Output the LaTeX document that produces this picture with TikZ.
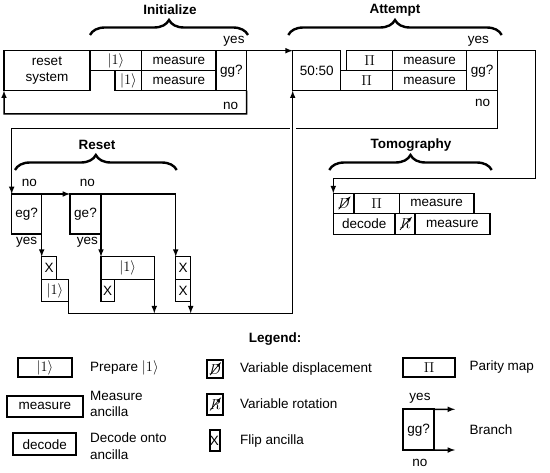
\documentclass[tikz,border=0pt]{standalone}
\usepackage{fontspec}
\setmainfont{Liberation Sans}
\usepackage{tikz}
\usetikzlibrary{shapes.geometric, arrows, positioning, decorations.pathreplacing}
\tikzstyle{blk} = [rectangle, draw=black, line width=1.5pt, inner sep=0pt, outer sep=0pt, anchor=north west, text centered, font=\fontsize{13.5}{16}\selectfont]
\tikzstyle{leg} = [rectangle, draw=black, line width=2pt, inner sep=0pt, outer sep=0pt, text centered, font=\fontsize{13.5}{16}\selectfont]
\tikzstyle{arrow} = [line width=1.5pt,->,>=latex]
\tikzstyle{icon} = [line width=0.7pt,->,>=latex]
\tikzstyle{lbl} = [inner sep=0pt, font=\fontsize{13.5}{16.5}\selectfont]
\tikzstyle{title} = [inner sep=0pt, font=\fontsize{13.5}{16}\selectfont\bfseries]
\tikzstyle{brc} = [decorate, decoration={brace, amplitude=15pt}, line width=2.4pt]

\begin{document}
\begin{tikzpicture}[x=1pt, y=-1pt]
		\useasboundingbox (0,0) rectangle (550,473);
		% Initialize
		\node (rs) [blk, align=center, minimum width=86pt, minimum height=40pt] at (4,50.7) {reset\\system};
		\node (o1a) [blk, minimum width=51.7pt, minimum height=20pt] at (rs.north east) {$|1\rangle$};
		\node (ma) [blk, minimum width=74.3pt, minimum height=20pt] at (o1a.north east) {measure};
		\node (mb) [blk, minimum width=74.3pt, minimum height=20pt] at (ma.south west) {measure};
		\node (o1b) [blk, anchor=north east, minimum width=26.7pt, minimum height=20pt] at (mb.north west) {$|1\rangle$};
		\node (ga) [blk, minimum width=30.7pt, minimum height=40pt] at (ma.north east) {gg?};
		\draw [brc] (90,35) -- (248,35);
		\node [title] at (170,10) {Initialize};
		\node [lbl] at (234,41.7) {yes};
		\node [lbl] at (230.7,106) {no};
		% Attempt
		\node (ff) [blk, minimum width=48pt, minimum height=40pt] at (292.7,50.7) {50:50};
		\node (pb) [blk, anchor=south west, minimum width=52pt, minimum height=20pt] at (ff.south east) {$\Pi$};
		\node (pa) [blk, anchor=south east, minimum width=46pt, minimum height=20pt] at (pb.north east) {$\Pi$};
		\node (mc) [blk, minimum width=74pt, minimum height=20pt] at (pa.north east) {measure};
		\node (md) [blk, minimum width=74pt, minimum height=20pt] at (mc.south west) {measure};
		\node (gb) [blk, minimum width=31pt, minimum height=40pt] at (mc.north east) {gg?};
		\draw [brc] (288.3,35) -- (501.7,35);
		\node [title] at (395,10) {Attempt};
		\node [lbl] at (478.3,41.7) {yes};
		\node [lbl] at (482.7,103.3) {no};
		% Reset
		\node (eg) [blk, minimum width=30pt, minimum height=40pt] at (11.7,194) {eg?};
		\node (ge) [blk, minimum width=31pt, minimum height=40pt] at (70,194) {ge?};
		\node (xa) [blk, minimum width=15pt, minimum height=22.6pt] at (41.7,256.7) {X};
		\node (oa) [blk, minimum width=26.6pt, minimum height=22.4pt] at (xa.south west) {$|1\rangle$};
		\node (ob) [blk, minimum width=53.3pt, minimum height=22.6pt] at (101,256.7) {$|1\rangle$};
		\node (xb) [blk, minimum width=13.3pt, minimum height=22.4pt] at (ob.south west) {X};
		\node (xc) [blk, minimum width=15pt, minimum height=22.6pt] at (175.7,256.7) {X};
		\node (xd) [blk, minimum width=15pt, minimum height=22.4pt] at (xc.south west) {X};
		\draw [brc] (15,170) -- (176.7,170);
		\node [title] at (97,145) {Reset};
		\node [lbl] at (29.3,183.3) {no};
		\node [lbl] at (87.3,183.3) {no};
		\node [lbl] at (26.7,242.7) {yes};
		\node [lbl] at (87.3,242.7) {yes};
		% Tomography
		\node (dd) [blk, minimum width=20.7pt, minimum height=20pt] at (333.3,193.3) {$D$};
		\node (pc) [blk, minimum width=45.3pt, minimum height=20pt] at (dd.north east) {$\Pi$};
		\node (me) [blk, minimum width=74.7pt, minimum height=20pt] at (pc.north east) {measure};
		\node (de) [blk, minimum width=61.7pt, minimum height=21pt] at (dd.south west) {decode};
		\node (rr) [blk, minimum width=20pt, minimum height=21pt] at (de.north east) {$R$};
		\node (mf) [blk, minimum width=75pt, minimum height=21pt] at (rr.north east) {measure};
		\draw [icon] ([shift={(-5,6)}]dd.center) -- ([shift={(7,-7)}]dd.center);
		\draw [icon] ([shift={(-5,6)}]rr.center) -- ([shift={(7,-7)}]rr.center);
		\draw [brc] (329.3,170) -- (491.7,170);
		\node [title] at (411,145) {Tomography};
		% connectors
		\coordinate (c1) at (246.7,114);
		\coordinate (an) at (497.7,128.3);
		\coordinate (ty) at (535.7,178.3);
		\coordinate (jn) at (292.7,313.3);
		\draw [arrow] (ga.north east) -- (ff.north west);
		\draw [arrow] (ga.south east) -- (c1) -| (rs.south west);
		\draw [arrow] (gb.north east) -| (ty) -| (dd.north west);
		\draw [arrow] (gb.south east) -- (an) -| (eg.north west);
		\draw [arrow] (eg.north east) -- (ge.north west);
		\draw [arrow] (eg.north east) -- (xa.north west);
		\draw [arrow] (ge.north east) -- (ob.north west);
		\draw [arrow] (ge.north east) -| (xc.north west);
		\draw [arrow] (ob.south east) -- (ob.south east |- jn);
		\draw [arrow] (xd.south east) -- (xd.south east |- jn);
		\node (br) [fill=white, inner sep=0pt, minimum width=6pt, minimum height=4pt] at (jn |- an) {};
		\draw [arrow] (oa.north east) |- (jn) -- (ff.south west);
		% Legend
		\node (lt) [title] at (275,339) {Legend:};
		\node (lo) [leg, minimum width=53.4pt, minimum height=18.4pt] at (45,367.5) {$|1\rangle$};
		\node [lbl, anchor=west] at (90,367.5) {Prepare $|1\rangle$};
		\node (lm) [leg, minimum width=76.6pt, minimum height=20.7pt] at (45,406.3) {measure};
		\node [lbl, anchor=west, align=left] at (90,404) {Measure\\ancilla};
		\node (lc) [leg, minimum width=62.7pt, minimum height=21.7pt] at (44.7,444.2) {decode};
		\node [lbl, anchor=west, align=left] at (90,446) {Decode onto\\ancilla};
		\node (ld) [leg, minimum width=15.4pt, minimum height=18.3pt] at (215,369.2) {$D$};
		\draw [icon] ([shift={(-5,6)}]ld.center) -- ([shift={(6,-7)}]ld.center);
		\node [lbl, anchor=west] at (240,369) {Variable displacement};
		\node (lr) [leg, minimum width=15.4pt, minimum height=21pt] at (215,404.5) {$R$};
		\draw [icon] ([shift={(-5,6)}]lr.center) -- ([shift={(6,-7)}]lr.center);
		\node [lbl, anchor=west] at (240,404) {Variable rotation};
		\node (lx) [leg, minimum width=10pt, minimum height=21pt] at (214.5,441) {X};
		\node [lbl, anchor=west] at (240,441) {Flip ancilla};
		\node (lp) [leg, minimum width=51.7pt, minimum height=18.4pt] at (429.2,367.5) {$\Pi$};
		\node [lbl, anchor=west] at (469.3,367.5) {Parity map};
		\node (lg) [leg, minimum width=30.7pt, minimum height=40.7pt] at (418.7,429.7) {gg?};
		\coordinate (ly) at (455,409.3);
		\coordinate (ln) at (455,450);
		\draw [arrow] (lg.north east) -- (ly);
		\draw [arrow] (lg.south east) -- (ln);
		\node [lbl] at (420,398.3) {yes};
		\node [lbl] at (420,463.3) {no};
		\node [lbl, anchor=west] at (469.3,430) {Branch};
\end{tikzpicture}
\end{document}
